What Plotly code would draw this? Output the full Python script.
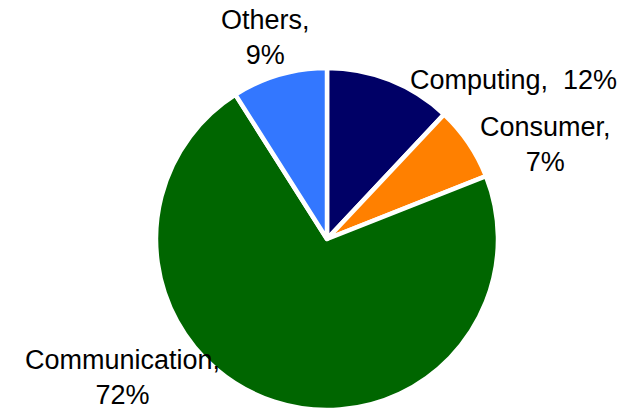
import plotly.graph_objects as go

labels = ["Computing", "Consumer", "Communication", "Others"]
values = [12, 7, 72, 9]
colors = ["#000066", "#FF8000", "#006600", "#3377FF"]
label_texts = ["Computing,\u00a0\u00a0" + "12%", "Consumer,<br>7%", "Communication,<br>72%", "Others,<br>9%"]
label_pos = [(513, 80), (545, 144), (122, 377), (265, 38)]

W, H = 637, 413
fig = go.Figure(go.Pie(
    labels=labels, values=values, sort=False, direction="clockwise", rotation=0,
    marker=dict(colors=colors, line=dict(color="white", width=4.5)),
    textinfo="none", hoverinfo="label+percent", showlegend=False,
    domain=dict(x=[156 / W, 498 / W], y=[1 - 410 / H, 1 - 68 / H]),
))
for t, (px, py) in zip(label_texts, label_pos):
    fig.add_annotation(text=t, x=px / W, y=1 - py / H, xref="paper", yref="paper",
                       xanchor="center", yanchor="middle", showarrow=False,
                       font=dict(family="Liberation Sans, Arial", size=27, color="black"))
fig.update_layout(width=W, height=H, margin=dict(l=0, r=0, t=0, b=0),
                  paper_bgcolor="white", plot_bgcolor="white")
fig.write_html("out.html")
